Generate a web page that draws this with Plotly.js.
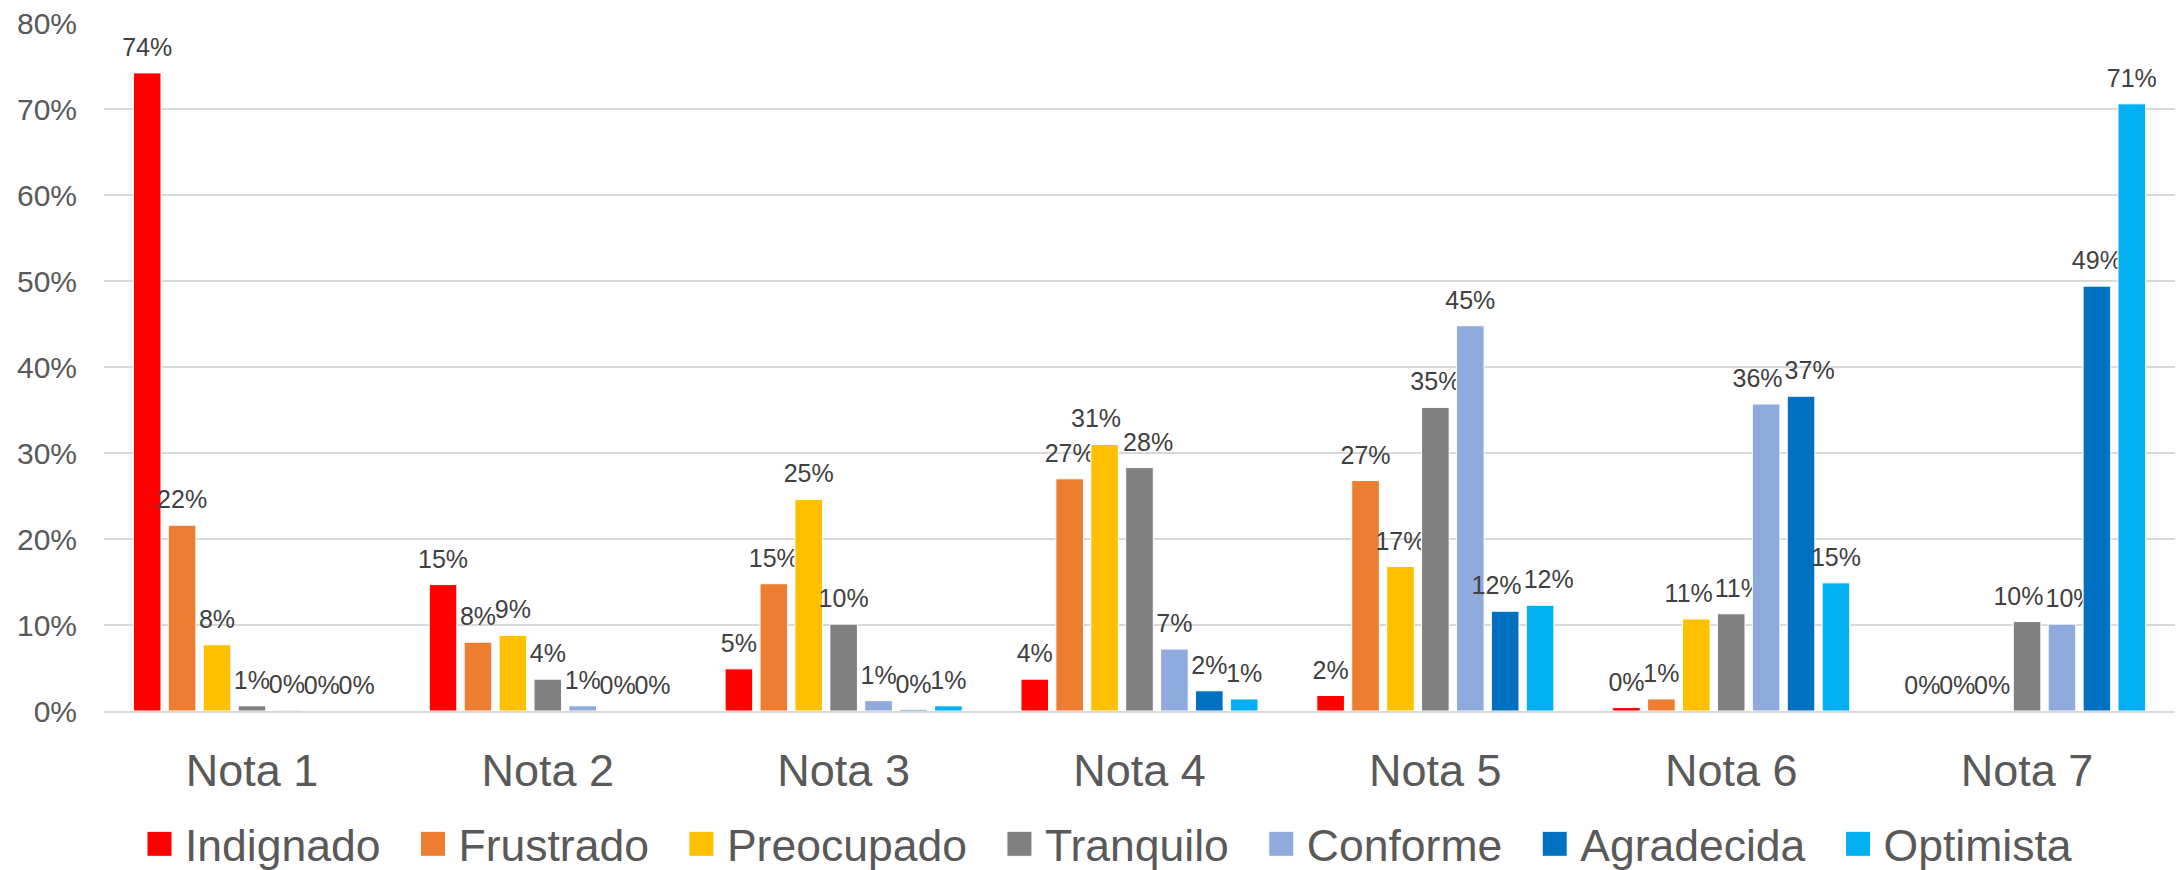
<!DOCTYPE html>
<html>
<head>
<meta charset="utf-8">
<script src="https://cdn.plot.ly/plotly-3.0.1.min.js"></script>
<style>
  html, body { margin: 0; padding: 0; background: #ffffff; }
  #chart { width: 2178px; height: 870px; }
</style>
</head>
<body>
<div id="chart"></div>
<script>
// Categories
const categories = ["Nota 1", "Nota 2", "Nota 3", "Nota 4", "Nota 5", "Nota 6", "Nota 7"];

// Series values (fractions)
const indignado  = [0.742, 0.147, 0.049, 0.037, 0.018, 0.004, 0];
const frustrado  = [0.216, 0.080, 0.148, 0.270, 0.268, 0.014, 0];
const preocupado = [0.077, 0.088, 0.246, 0.310, 0.168, 0.107, 0];
const tranquilo  = [0.006, 0.037, 0.101, 0.283, 0.353, 0.113, 0.104];
const conforme   = [0.001, 0.006, 0.012, 0.072, 0.448, 0.357, 0.101];
const agradecida = [0, 0, 0.0015, 0.0235, 0.116, 0.366, 0.494];
const optimista  = [0, 0, 0.006, 0.014, 0.123, 0.149, 0.706];

const seriesNames = ["Indignado", "Frustrado", "Preocupado", "Tranquilo", "Conforme", "Agradecida", "Optimista"];
const seriesValues = [indignado, frustrado, preocupado, tranquilo, conforme, agradecida, optimista];
const seriesColors = ["#FF0000", "#ED7D31", "#FFC000", "#808080", "#8FAADC", "#0070C0", "#00B0F0"];

// Y ticks
const yTickVals = [0, 0.1, 0.2, 0.3, 0.4, 0.5, 0.6, 0.7, 0.8];
const yTickText = ["0%", "10%", "20%", "30%", "40%", "50%", "60%", "70%", "80%"];

const FONT = "'Liberation Sans', Arial, sans-serif";

const traces = seriesNames.map((name, i) => ({
  type: "bar",
  name: name,
  x: categories,
  y: seriesValues[i],
  marker: { color: seriesColors[i], line: { color: "#FFFFFF", width: 1 } },
  texttemplate: "%{y:.0%}",
  textposition: "outside",
  constraintext: "none",
  cliponaxis: false,
  textfont: { family: FONT, size: 25, color: "#404040" },
  hoverinfo: "skip"
}));

const layout = {
  width: 2178,
  height: 870,
  paper_bgcolor: "#FFFFFF",
  plot_bgcolor: "#FFFFFF",
  margin: { l: 104, r: 3, t: 23, b: 158.5, pad: 0 },
  barmode: "group",
  bargap: 0.174,
  bargroupgap: 0.21,
  font: { family: FONT, color: "#595959" },
  showlegend: true,
  legend: {
    orientation: "h",
    xref: "container",
    yref: "container",
    x: 112 / 2178,
    xanchor: "left",
    y: 0.030,
    yanchor: "middle",
    itemwidth: 63,
    itemclick: false,
    font: { family: FONT, size: 44.5, color: "#595959" },
    traceorder: "normal"
  },
  xaxis: {
    type: "category",
    tickfont: { family: FONT, size: 45, color: "#595959" },
    showgrid: false,
    showline: true,
    linecolor: "#D9D9D9",
    linewidth: 2,
    ticks: "",
    ticklabelstandoff: 19,
    fixedrange: true
  },
  yaxis: {
    range: [0, 0.8],
    tickvals: yTickVals,
    ticktext: yTickText,
    tickfont: { family: FONT, size: 30, color: "#595959" },
    showgrid: true,
    gridcolor: "#D9D9D9",
    gridwidth: 2,
    zeroline: false,
    showline: false,
    ticks: "",
    ticklabelstandoff: 26,
    fixedrange: true
  }
};

Plotly.newPlot("chart", traces, layout, { staticPlot: true, displayModeBar: false }).then(() => {
  // enlarge legend squares and shift them next to the text
  document.querySelectorAll(".legend .legendpoints path").forEach(p => {
    p.setAttribute("d", "M23.5,12.5H-1.5V-12.5H23.5Z");
  });
  // lift outside bar labels a little and push apart labels that collide
  const labels = Array.from(document.querySelectorAll(".bars text.bartext")).map(t => ({
    t: t, r: t.getBoundingClientRect(), dx: 0, tr: t.getAttribute("transform") || ""
  }));
  labels.sort((a, b) => (a.r.left + a.r.right) - (b.r.left + b.r.right));
  for (let pass = 0; pass < 4; pass++) {
    for (let i = 1; i < labels.length; i++) {
      const a = labels[i - 1], b = labels[i];
      const yOv = Math.min(a.r.bottom, b.r.bottom) - Math.max(a.r.top, b.r.top);
      const xOv = (a.r.right + a.dx) - (b.r.left + b.dx);
      if (yOv > 4 && xOv > 2) {
        a.dx -= xOv / 2 + 1;
        b.dx += xOv / 2 + 1;
      }
    }
  }
  labels.forEach(l => {
    l.t.setAttribute("transform", "translate(" + l.dx.toFixed(1) + ",-9) " + l.tr);
  });
});
</script>
</body>
</html>
